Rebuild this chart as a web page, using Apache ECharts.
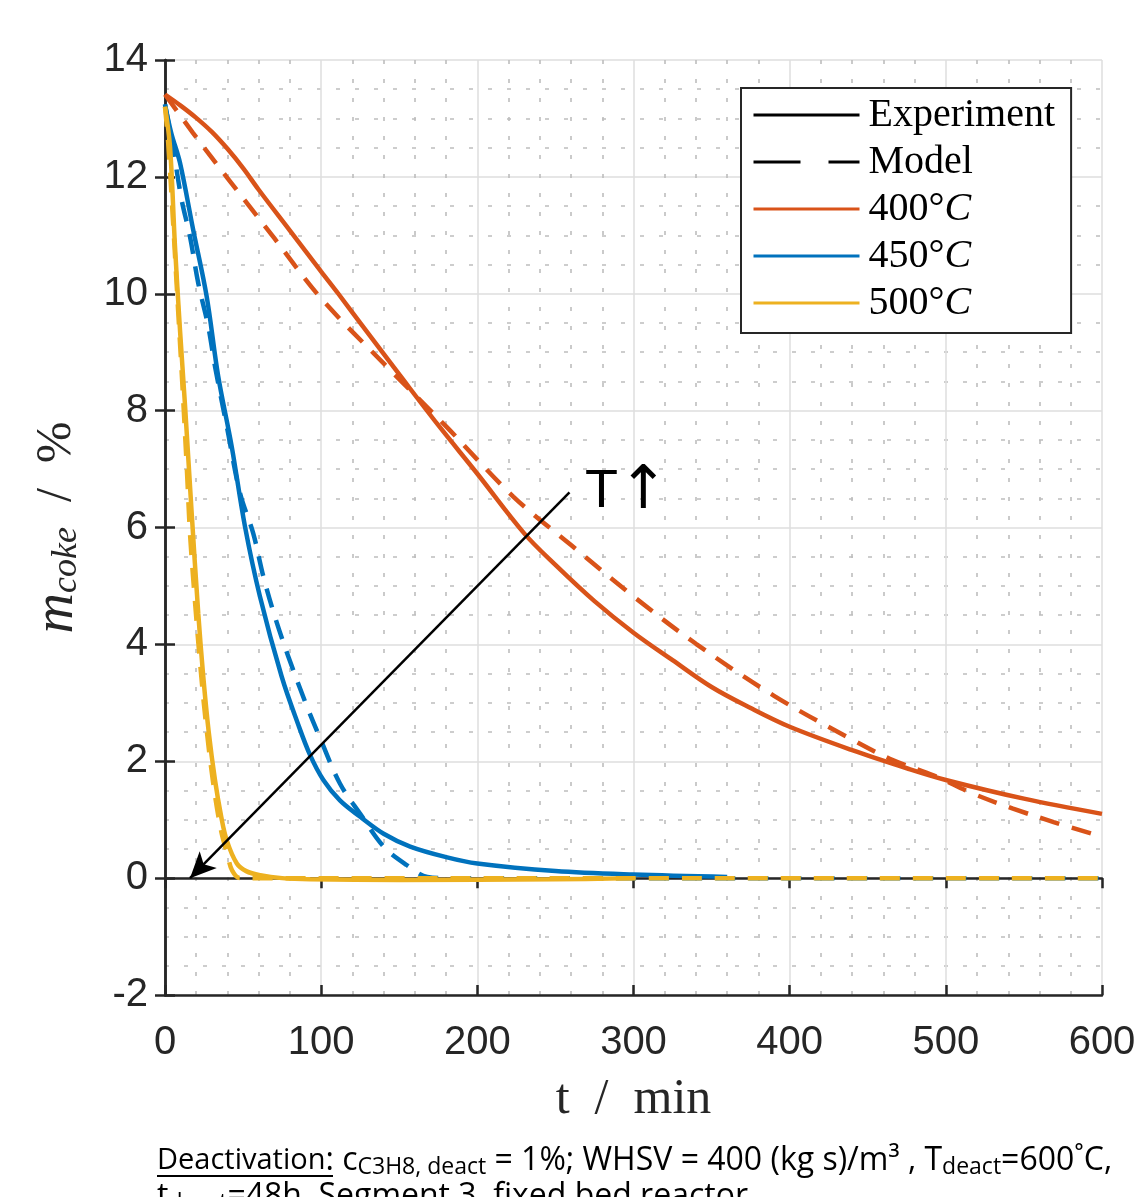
<!DOCTYPE html>
<html><head><meta charset="utf-8">
<script src="https://cdn.jsdelivr.net/npm/echarts@6/dist/echarts.min.js"></script>
<style>html,body{margin:0;padding:0;background:#fff}#c{width:1139px;height:1197px}</style>
</head><body><div id="c"></div>
<script>
// ---- data (t in min, m_coke in %) ----
const exp400T = [0, 10, 20, 30, 40, 50, 60, 80, 100, 111, 125, 150, 175, 200, 230, 250, 275, 300, 325, 350, 375, 400, 440, 475, 500, 550, 600];
const exp400V = [13.41, 13.22, 13.01, 12.77, 12.48, 12.15, 11.78, 11.08, 10.38, 10.0, 9.5, 8.62, 7.75, 6.92, 5.90, 5.36, 4.74, 4.20, 3.73, 3.27, 2.91, 2.59, 2.19, 1.88, 1.68, 1.36, 1.10];
const mod400T = [0, 18, 40, 70, 100, 144, 180, 223, 260, 300, 340, 390, 440, 466, 492, 517, 543, 569, 600];
const mod400V = [13.41, 12.75, 11.98, 10.95, 9.92, 8.70, 7.73, 6.53, 5.70, 4.82, 4.01, 3.12, 2.37, 2.02, 1.76, 1.45, 1.19, 0.96, 0.71];
const exp450T = [0, 4, 9.6, 18, 26.7, 34, 42.7, 51.2, 60.8, 74.7, 85, 93, 101.4, 112, 125, 140, 157, 180, 200, 250, 300, 360];
const exp450V = [13.24, 12.75, 12.24, 11.10, 9.95, 8.60, 7.39, 6.02, 4.82, 3.45, 2.65, 2.10, 1.68, 1.33, 1.05, 0.76, 0.54, 0.36, 0.25, 0.12, 0.06, 0.02];
const mod450T = [0, 5.3, 10.7, 16, 21.3, 27.7, 32, 40, 48, 56.5, 63, 70.4, 79, 90, 100, 112, 125, 140, 155, 168, 180, 600];
const mod450V = [13.24, 12.47, 11.6, 10.98, 10.18, 9.44, 8.76, 7.67, 6.59, 5.9, 5.16, 4.47, 3.79, 3.0, 2.35, 1.62, 1.1, 0.54, 0.22, 0.02, 0, 0];
const exp500T = [0, 3.2, 6.4, 9.6, 12.8, 17.1, 21.3, 24.5, 28, 32, 36, 39.5, 46, 52, 61, 75, 93, 150, 250, 300];
const exp500V = [13.2, 12.52, 10.81, 9.38, 8.1, 6.24, 4.53, 3.45, 2.5, 1.68, 1.05, 0.65, 0.25, 0.12, 0.05, 0.0, -0.02, -0.03, -0.02, 0];
const mod500T = [0, 2, 5, 8, 11, 14, 16, 19, 22.4, 26, 31, 36, 40, 43, 48, 600];
const mod500V = [13.2, 12.6, 11.3, 9.9, 8.5, 7.0, 5.9, 4.8, 3.7, 2.7, 1.6, 0.8, 0.4, 0.13, 0, 0];
const xTicks = [0, 100, 200, 300, 400, 500, 600];
const yTicks = [-2, 0, 2, 4, 6, 8, 10, 12, 14];
const arrowStart = [259, 6.6];
const arrowEnd = [16, 0];
const labelT = [269, 6.6];
const legendNames = ['Experiment', 'Model', '400°C', '450°C', '500°C'];

const zip = (t, v) => t.map((x, i) => [x, v[i]]);
const C400 = '#D95319', C450 = '#0072BD', C500 = '#EDB120';
const serif = '"Liberation Serif", "Times New Roman", serif';
const sans = '"Liberation Sans", Arial, sans-serif';
const ink = '#262626';

function line(name, data, color, dashed) {
  return {
    name, type: 'line', data, symbol: 'none', showSymbol: false, smooth: 0.35,
    lineStyle: { color, width: 4.5, type: dashed ? [20, 13] : 'solid', cap: 'butt' },
    itemStyle: { color }, z: 3, animation: false
  };
}

const chart = echarts.init(document.getElementById('c'));
const gridLine = { show: true, lineStyle: { color: '#dedede', width: 1.5 } };
const minorLine = { show: true, lineStyle: { color: '#bdbdbd', width: 1.6, type: [4, 15] } };
const sub = '"Open Sans", "Liberation Sans", sans-serif';
chart.setOption({
  animation: false,
  backgroundColor: '#fff',
  grid: { left: 165, right: 37, top: 60, bottom: 202, containLabel: false },
  xAxis: [{
    type: 'value', min: 0, max: 600, interval: 100,
    axisLine: { show: true, onZero: false, lineStyle: { color: ink, width: 2.5 } },
    axisTick: { show: true, inside: true, length: 10, lineStyle: { color: ink, width: 2.5 } },
    axisLabel: { color: ink, fontSize: 40, fontFamily: sans, margin: 28,
      formatter: v => xTicks.includes(v) ? String(v) : '' },
    splitLine: gridLine, minorTick: { show: false, splitNumber: 5 }, minorSplitLine: minorLine,
    name: 't  /  min', nameLocation: 'middle', nameGap: 80,
    nameTextStyle: { fontFamily: serif, fontSize: 50, color: ink }
  }, {
    type: 'value', position: 'top', min: 0, max: 600, interval: 100,
    axisLine: { show: true, lineStyle: { color: ink, width: 2.5 } },
    axisTick: { show: true, inside: true, length: 10, lineStyle: { color: ink, width: 2.5 } },
    axisLabel: { show: false }, splitLine: { show: false }
  }],
  yAxis: [{
    type: 'value', min: -2, max: 14, interval: 2,
    axisLine: { show: true, onZero: false, lineStyle: { color: ink, width: 2.5 } },
    axisTick: { show: true, inside: true, length: 10, lineStyle: { color: ink, width: 2.5 } },
    axisLabel: { color: ink, fontSize: 40, fontFamily: sans, margin: 17,
      formatter: v => yTicks.includes(v) ? String(v) : '' },
    splitLine: gridLine, minorTick: { show: false, splitNumber: 4 }, minorSplitLine: minorLine,
    name: '{m|m}{s|coke}{r|  /  %}', nameLocation: 'middle', nameGap: 80,
    nameTextStyle: { color: ink, rich: {
      m: { fontFamily: serif, fontStyle: 'italic', fontSize: 56, color: ink, lineHeight: 56 },
      s: { fontFamily: serif, fontStyle: 'italic', fontSize: 36, color: ink, verticalAlign: 'bottom', lineHeight: 22 },
      r: { fontFamily: serif, fontSize: 50, color: ink, lineHeight: 56 }
    } }
  }, {
    type: 'value', position: 'right', min: -2, max: 14, interval: 2,
    axisLine: { show: true, lineStyle: { color: ink, width: 2.5 } },
    axisTick: { show: true, inside: true, length: 10, lineStyle: { color: ink, width: 2.5 } },
    axisLabel: { show: false }, splitLine: { show: false }
  }],
  legend: {
    data: legendNames, orient: 'vertical', left: 741, top: 88,
    selectedMode: false, itemWidth: 106, itemHeight: 14, itemGap: 7,
    padding: [7, 16, 10, 11],
    backgroundColor: '#fff', borderColor: ink, borderWidth: 2, borderRadius: 0,
    lineStyle: { width: 3 },
    itemStyle: { opacity: 0, borderWidth: 0 },
    formatter: n => n.endsWith('°C') ? '{n|' + n.slice(0, -1) + '}{i|C}' : '{n|' + n + '}',
    textStyle: { color: '#000', fontFamily: serif, fontSize: 40, lineHeight: 40, padding: [0, 0, 0, 4],
      rich: { n: { fontFamily: serif, fontSize: 40, color: '#000' },
              i: { fontFamily: serif, fontSize: 40, fontStyle: 'italic', color: '#000' } } }
  },
  series: [
    { name: 'Experiment', type: 'line', data: [], symbol: 'none', lineStyle: { color: '#000', width: 3 }, itemStyle: { color: '#000' } },
    { name: 'Model', type: 'line', data: [], symbol: 'none', lineStyle: { color: '#000', width: 3, type: [47, 28] }, itemStyle: { color: '#000' } },
    line('400°C', zip(exp400T, exp400V), C400, false),
    line('400°C', zip(mod400T, mod400V), C400, true),
    line('450°C', zip(exp450T, exp450V), C450, false),
    line('450°C', zip(mod450T, mod450V), C450, true),
    line('500°C', zip(exp500T, exp500V), C500, false),
    line('500°C', zip(mod500T, mod500V), C500, true),
    {
      name: 'annot', type: 'line', data: [], symbol: 'none', z: 5,
      markLine: {
        silent: true, symbol: ['none', 'arrow'], symbolSize: [18, 26], animation: false,
        label: { show: false },
        lineStyle: { color: '#000', width: 2.5, type: 'solid' },
        data: [[{ coord: arrowStart }, { coord: arrowEnd }]]
      },
      markPoint: {
        silent: true, symbol: 'circle', symbolSize: 0, animation: false,
        label: { show: true, position: 'right', distance: 0, formatter: '{t|T}{a|↑}',
          rich: { t: { fontFamily: sans, fontSize: 54, color: '#000' },
                  a: { fontFamily: '"DejaVu Sans", sans-serif', fontSize: 60, color: '#000' } } },
        data: [{ coord: labelT }]
      }
    }
  ],
  graphic: [
    { type: 'text', left: 157, top: 1145, z: 10,
      style: { text: '{u|Deactivation}{n|: c}{s|C3H8, deact}{n| = 1%; WHSV = 400 (kg s)/m³ , T}{s|deact}{n|=600˚C,}\n{n|t}{s|deact}{n|=48h, Segment 3, fixed bed reactor}',
        rich: {
          u: { fontFamily: sub, fontSize: 29, fill: '#000', lineHeight: 36 },
          n: { fontFamily: sub, fontSize: 32, fill: '#000', lineHeight: 36 },
          s: { fontFamily: sub, fontSize: 23, fill: '#000', verticalAlign: 'bottom', lineHeight: 12 }
        } } },
    { type: 'rect', left: 157, top: 1175, z: 10, shape: { width: 176, height: 2 }, style: { fill: '#000' } }
  ]
});
</script></body></html>
